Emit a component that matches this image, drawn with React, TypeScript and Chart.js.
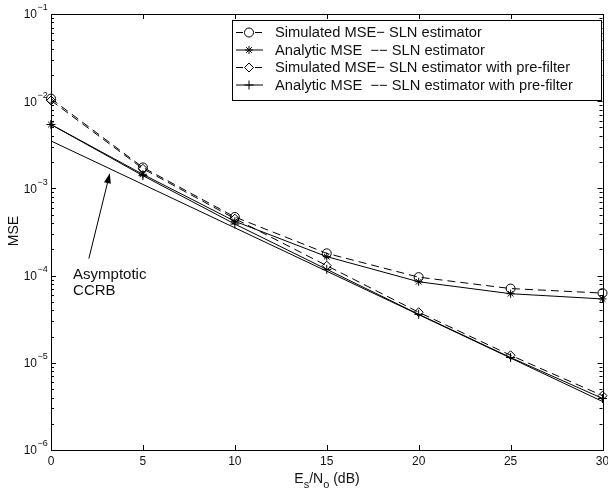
import React, { useEffect, useRef } from "react";
import { Chart, registerables } from "chart.js";
import { drawPoint } from "chart.js/helpers";

Chart.register(...registerables);

const snrDb = [0, 5, 10, 15, 20, 25, 30];
const simSLN = [1.07e-2, 1.74e-3, 4.7e-4, 1.8e-4, 9.6e-5, 7.1e-5, 6.3e-5];
const anaSLN = [5.4e-3, 1.45e-3, 4.2e-4, 1.65e-4, 8.5e-5, 6.2e-5, 5.4e-5];
const simPF = [1.02e-2, 1.68e-3, 4.5e-4, 1.3e-4, 3.8e-5, 1.22e-5, 4.2e-6];
const anaPF = [5.4e-3, 1.4e-3, 3.9e-4, 1.18e-4, 3.6e-5, 1.15e-5, 3.9e-6];
const ccrbX = [0, 30];
const ccrbY = [3.5e-3, 3.6e-6];

const xTicks = [0, 5, 10, 15, 20, 25, 30];
const yExponents = [-1, -2, -3, -4, -5, -6];

const legendLabels = [
  "Simulated MSE\u2212 SLN estimator",
  "Analytic MSE  \u2212\u2212 SLN estimator",
  "Simulated MSE\u2212 SLN estimator with pre-filter",
  "Analytic MSE  \u2212\u2212 SLN estimator with pre-filter",
];

const annotationText = ["Asymptotic", "CCRB"];
const annotationTextPos = { x: 1.2, y: [1.03e-4, 6.7e-5] };
const arrowFrom = { x: 2.06, y: 1.57e-4 };
const arrowTo = { x: 3.2, y: 1.49e-3 };

const FONT = "'Liberation Sans', Arial, Helvetica, sans-serif";
const DASH = [8, 5];

const toXY = (ys: number[]) => snrDb.map((x, i) => ({ x, y: ys[i] }));

export default function App() {
  const ref = useRef<HTMLCanvasElement | null>(null);

  useEffect(() => {
    document.body.style.margin = "0";
    const canvas = ref.current;
    if (!canvas) return;

    const overlay = {
      id: "matlabAxes",
      afterDraw(chart: any) {
        const ctx = chart.ctx as CanvasRenderingContext2D;
        const { left, right, top, bottom } = chart.chartArea;
        const xs = chart.scales.x;
        const ys = chart.scales.y;
        ctx.save();
        ctx.strokeStyle = "#000";
        ctx.fillStyle = "#111";
        ctx.lineWidth = 1;
        ctx.setLineDash([]);
        ctx.strokeRect(Math.round(left) + 0.5, Math.round(top) + 0.5, Math.round(right - left), Math.round(bottom - top));
        ctx.beginPath();
        for (const t of xTicks) {
          const px = Math.round(xs.getPixelForValue(t)) + 0.5;
          ctx.moveTo(px, bottom);
          ctx.lineTo(px, bottom - 5);
          ctx.moveTo(px, top);
          ctx.lineTo(px, top + 5);
        }
        for (const e of yExponents) {
          for (let m = 1; m <= 9; m++) {
            const v = m * Math.pow(10, e);
            if (v > 1e-1 + 1e-12 || v < 1e-6 - 1e-15) continue;
            const py = Math.round(ys.getPixelForValue(v)) + 0.5;
            const len = m === 1 ? 5 : 3;
            ctx.moveTo(left, py);
            ctx.lineTo(left + len, py);
            ctx.moveTo(right, py);
            ctx.lineTo(right - len, py);
          }
        }
        ctx.stroke();

        ctx.font = `12px ${FONT}`;
        ctx.textAlign = "center";
        ctx.textBaseline = "top";
        for (const t of xTicks) {
          ctx.fillText(String(t), xs.getPixelForValue(t), bottom + 6);
        }
        for (const e of yExponents) {
          const py = ys.getPixelForValue(Math.pow(10, e));
          ctx.font = `12px ${FONT}`;
          ctx.textAlign = "right";
          ctx.textBaseline = "middle";
          ctx.fillText("10", 37, py + 1);
          ctx.font = `9px ${FONT}`;
          ctx.textAlign = "left";
          ctx.fillText("\u2212" + String(-e), 37.5, py - 6);
        }
        ctx.save();
        ctx.translate(14, 231);
        ctx.rotate(-Math.PI / 2);
        ctx.font = `14px ${FONT}`;
        ctx.textAlign = "center";
        ctx.textBaseline = "middle";
        ctx.fillText("MSE", 0, 0);
        ctx.restore();
        {
          const parts: [string, boolean][] = [["E", false], ["s", true], ["/N", false], ["o", true], [" (dB)", false]];
          const big = `14px ${FONT}`;
          const small = `11px ${FONT}`;
          let w = 0;
          for (const [s, sub] of parts) {
            ctx.font = sub ? small : big;
            w += ctx.measureText(s).width;
          }
          let cx = 327 - w / 2;
          ctx.textAlign = "left";
          ctx.textBaseline = "alphabetic";
          for (const [s, sub] of parts) {
            ctx.font = sub ? small : big;
            ctx.fillText(s, cx, sub ? 488 : 483);
            cx += ctx.measureText(s).width;
          }
        }

        const lx0 = 232, ly0 = 20, lx1 = 601, ly1 = 100;
        ctx.fillStyle = "#fff";
        ctx.fillRect(lx0, ly0, lx1 - lx0, ly1 - ly0);
        ctx.strokeStyle = "#000";
        ctx.lineWidth = 1;
        ctx.strokeRect(lx0 + 0.5, ly0 + 0.5, lx1 - lx0, ly1 - ly0);
        const rows = [32, 49.5, 67, 84.5];
        chart.data.datasets.slice(0, 4).forEach((ds: any, i: number) => {
          const y = rows[i];
          ctx.save();
          ctx.strokeStyle = "#000";
          ctx.lineWidth = 1;
          ctx.setLineDash([]);
          ctx.beginPath();
          if (ds.borderDash && ds.borderDash.length) {
            ctx.moveTo(236, y + 0.5);
            ctx.lineTo(243, y + 0.5);
            ctx.moveTo(255, y + 0.5);
            ctx.lineTo(262, y + 0.5);
          } else {
            ctx.moveTo(236, y + 0.5);
            ctx.lineTo(263, y + 0.5);
          }
          ctx.stroke();
          ctx.fillStyle = "rgba(0,0,0,0)";
          drawPoint(ctx, { pointStyle: ds.pointStyle, radius: ds.pointRadius, borderWidth: 1, rotation: 0 } as any, 249, y + 0.5);
          ctx.restore();
          ctx.fillStyle = "#111";
          ctx.font = `14.7px ${FONT}`;
          ctx.textAlign = "left";
          ctx.textBaseline = "middle";
          ctx.fillText(legendLabels[i], 275, y + 1);
        });

        ctx.fillStyle = "#111";
        ctx.font = `15px ${FONT}`;
        ctx.textAlign = "left";
        ctx.textBaseline = "middle";
        annotationText.forEach((t, i) => {
          ctx.fillText(t, xs.getPixelForValue(annotationTextPos.x), ys.getPixelForValue(annotationTextPos.y[i]));
        });
        const ax0 = xs.getPixelForValue(arrowFrom.x), ay0 = ys.getPixelForValue(arrowFrom.y);
        const ax1 = xs.getPixelForValue(arrowTo.x), ay1 = ys.getPixelForValue(arrowTo.y);
        const ang = Math.atan2(ay1 - ay0, ax1 - ax0);
        const hl = 10, hw = 3.5;
        const bx = ax1 - hl * Math.cos(ang), by = ay1 - hl * Math.sin(ang);
        ctx.strokeStyle = "#000";
        ctx.lineWidth = 1;
        ctx.beginPath();
        ctx.moveTo(ax0, ay0);
        ctx.lineTo(bx, by);
        ctx.stroke();
        ctx.fillStyle = "#000";
        ctx.beginPath();
        ctx.moveTo(ax1, ay1);
        ctx.lineTo(bx + hw * Math.sin(ang), by - hw * Math.cos(ang));
        ctx.lineTo(bx - hw * Math.sin(ang), by + hw * Math.cos(ang));
        ctx.closePath();
        ctx.fill();
        ctx.restore();
      },
    };

    const common = {
      borderColor: "#000",
      pointBorderColor: "#000",
      pointBackgroundColor: "rgba(0,0,0,0)",
      backgroundColor: "rgba(0,0,0,0)",
      borderWidth: 1,
      pointBorderWidth: 1,
      tension: 0,
      fill: false,
      clip: false as any,
    };

    const chart = new Chart(canvas, {
      type: "line",
      data: {
        datasets: [
          { ...common, label: legendLabels[0], data: toXY(simSLN), borderDash: DASH, pointStyle: "circle", pointRadius: 4.5 },
          { ...common, label: legendLabels[1], data: toXY(anaSLN), pointStyle: "star", pointRadius: 4 },
          { ...common, label: legendLabels[2], data: toXY(simPF), borderDash: DASH, pointStyle: "rectRot", pointRadius: 4.5 },
          { ...common, label: legendLabels[3], data: toXY(anaPF), pointStyle: "cross", pointRadius: 4.5 },
          { ...common, label: "Asymptotic CCRB", data: ccrbX.map((x, i) => ({ x, y: ccrbY[i] })), pointRadius: 0 },
        ] as any,
      },
      options: {
        animation: false,
        responsive: false,
        maintainAspectRatio: false,
        devicePixelRatio: 1,
        layout: { padding: { left: 51, right: 4, top: 14, bottom: 41 } },
        scales: {
          x: { type: "linear", min: 0, max: 30, display: false },
          y: { type: "logarithmic", min: 1e-6, max: 1e-1, display: false },
        },
        plugins: { legend: { display: false }, tooltip: { enabled: false } },
        events: [],
      },
      plugins: [overlay],
    });
    return () => chart.destroy();
  }, []);

  return (
    <div style={{ position: "fixed", left: 0, top: 0, width: 608, height: 491, background: "#fff" }}>
      <canvas ref={ref} width={608} height={491} style={{ width: 608, height: 491, display: "block" }} />
    </div>
  );
}
